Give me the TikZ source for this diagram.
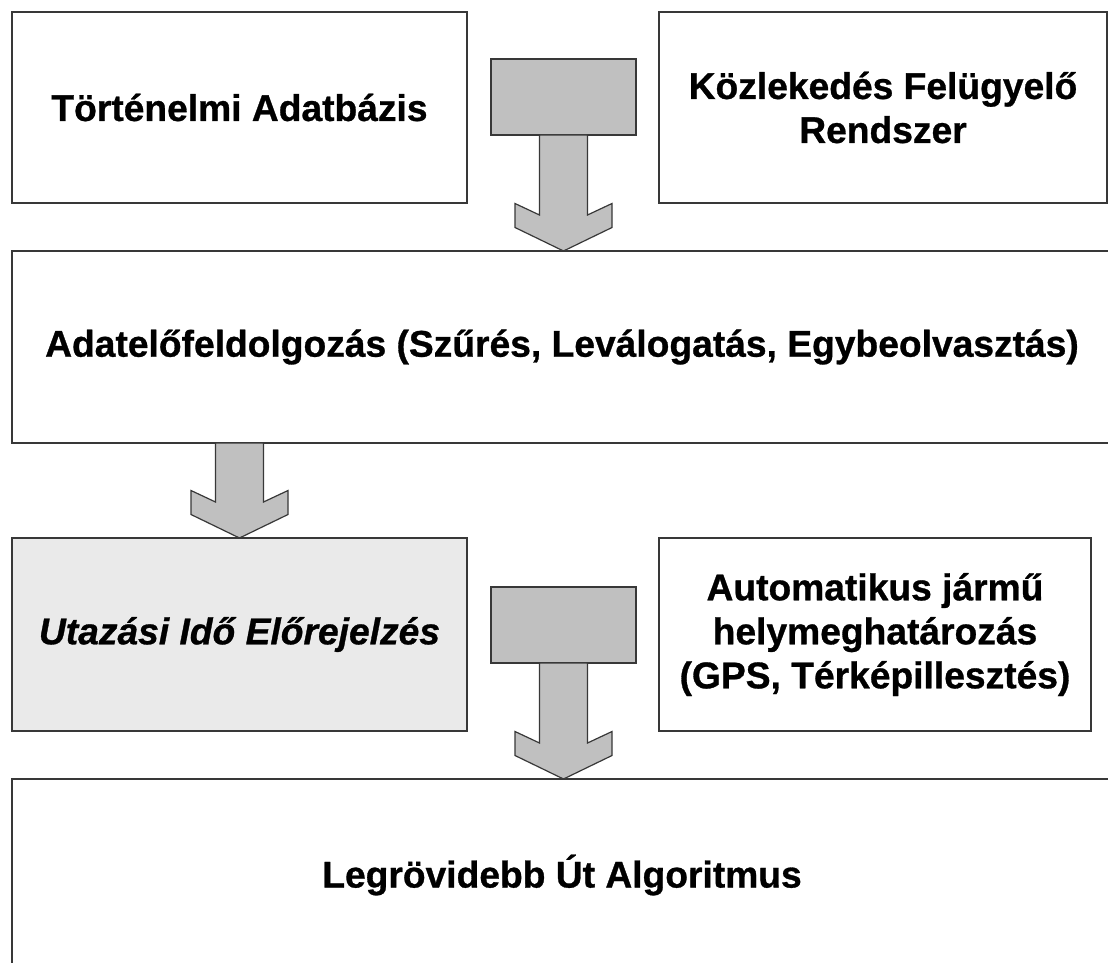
\documentclass[tikz,border=0pt]{standalone}
\usepackage{fontspec}
\setmainfont{Liberation Sans}[BoldFeatures={FakeBold=0.8},BoldItalicFeatures={FakeBold=0.8}]
\usetikzlibrary{calc}
\definecolor{arrowgray}{HTML}{C0C0C0}
\definecolor{boxgray}{HTML}{EAEAEA}
\definecolor{edgecol}{HTML}{383838}
\newcommand\blockdown[2]{%
  \coordinate (bdS) at (#1);
  \coordinate (bdT) at (#2);
  \draw[blockarrow] ($(bdS)+(-24,0)$) -- ($(bdT)+(-24,-36)$) -- ($(bdT)+(-48.5,-47.5)$)
    -- ($(bdT)+(-48.5,-23.5)$) -- (bdT) -- ($(bdT)+(48.5,-23.5)$) -- ($(bdT)+(48.5,-47.5)$)
    -- ($(bdT)+(24,-36)$) -- ($(bdS)+(24,0)$) -- cycle;
}
\begin{document}
\begin{tikzpicture}[x=1pt,y=-1pt,
  box/.style={draw=edgecol, line width=1.6pt, rectangle, anchor=north west, inner sep=0pt,
    outer sep=0pt, align=center, font=\fontsize{37.2}{44}\selectfont\bfseries},
  srcblock/.style={draw=edgecol, line width=1.2pt, fill=arrowgray, rectangle, anchor=north west,
    inner sep=0pt, outer sep=0pt, minimum width=145pt, minimum height=76pt},
  blockarrow/.style={draw=edgecol, line width=1.2pt, fill=arrowgray, line join=miter}]
\useasboundingbox (0,0) rectangle (1108,963);
\clip (0,0) rectangle (1108,963);
\fill[white] (0,0) rectangle (1108,963);

\node[box, minimum width=455pt, minimum height=191pt] (b1) at (12,12) {Történelmi Adatbázis};
\node[box, minimum width=448pt, minimum height=191pt] (b2) at (659,12) {Közlekedés Felügyelő\\Rendszer};
\node[box, minimum width=1100pt, minimum height=192pt] (b3) at (12,251) {Adatelőfeldolgozás (Szűrés, Leválogatás, Egybeolvasztás)};
\node[box, fill=boxgray, minimum width=455pt, minimum height=193pt,
  font=\fontsize{37.2}{44}\selectfont\bfseries\itshape] (b4) at (12,538) {Utazási Idő Előrejelzés};
\node[box, minimum width=432pt, minimum height=193pt] (b5) at (659,538) {Automatikus jármű\\helymeghatározás\\(GPS, Térképillesztés)};
\node[box, minimum width=1100pt, minimum height=192pt] (b6) at (12,779) {Legrövidebb Út Algoritmus};

\node[srcblock] (r1) at (491,59) {};
\node[srcblock] (r2) at (491,587) {};

\blockdown{r1.south}{r1.south |- b3.north}
\blockdown{b4.north |- b3.south}{b4.north}
\blockdown{r2.south}{r2.south |- b6.north}
\end{tikzpicture}
\end{document}
